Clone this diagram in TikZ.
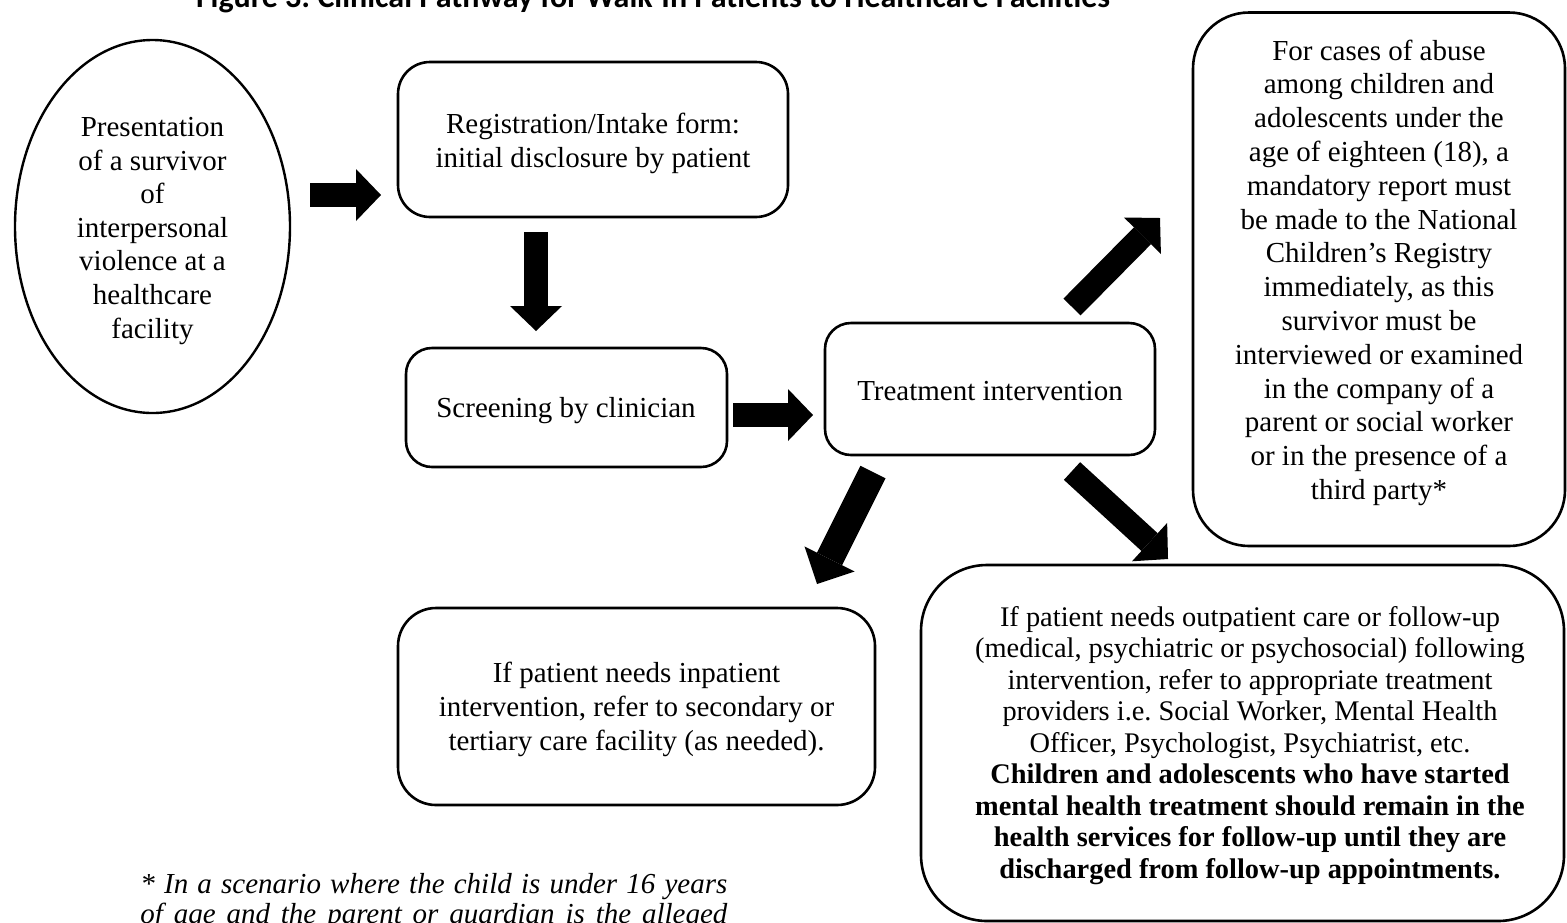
\documentclass[tikz,border=0pt]{standalone}
\usepackage{fontspec}
\setmainfont{Liberation Serif}
\newfontfamily\headfont{Carlito}
\usetikzlibrary{arrows.meta,shapes.geometric}
\frenchspacing

\tikzset{
  rbox/.style={draw, line width=1.3pt, rounded corners=#1, inner sep=0pt},
  oval/.style={draw, ellipse, line width=1.2pt, inner sep=0pt},
  body/.style={align=center, inner sep=0pt, font=\fontsize{14.5pt}{16.8pt}\selectfont},
  notetext/.style={anchor=base west, inner sep=0pt, font=\fontsize{14.5pt}{16pt}\selectfont\itshape},
  blockarrow/.style={line width=12pt, -{Triangle[length=12.5pt,width=26pt,line width=0pt]}},
  widearrow/.style={line width=14pt, -{Triangle[length=14pt,width=28pt,line width=0pt]}},
}

\begin{document}
\begin{tikzpicture}[x=0.5pt,y=-0.5pt]
\useasboundingbox (0,0) rectangle (1567,922);

% heading (runs off the top edge)
\node[anchor=base, inner sep=0pt, font=\headfont\bfseries\fontsize{16pt}{19pt}\selectfont] (title) at (653,7)
  {Figure 3: Clinical Pathway for Walk-In Patients to Healthcare Facilities};

% shapes
\node[oval, minimum width=137.5pt, minimum height=186.5pt] (pres) at (152.5,226.5) {};
\node[rbox=16pt, minimum width=195pt, minimum height=77.5pt] (reg) at (593,139.5) {};
\node[rbox=13pt, minimum width=160.5pt, minimum height=59.5pt] (scr) at (566.5,407.5) {};
\node[rbox=13pt, minimum width=165pt, minimum height=66pt] (trt) at (990,389) {};
\node[rbox=28pt, minimum width=186pt, minimum height=266.75pt] (abuse) at (1379,279.25) {};
\node[rbox=19pt, minimum width=238.5pt, minimum height=98.5pt] (inpt) at (636.5,706.5) {};
\node[rbox=33pt, minimum width=321.5pt, minimum height=178pt] (outpt) at (1242.5,743) {};

% texts
\node[body, anchor=north] (pres-t) at (152.5,116.8)
  {Presentation\\of a survivor\\of\\interpersonal\\violence at a\\healthcare\\facility};
\node[body, anchor=north] (reg-t) at (593,113)
  {Registration/Intake form:\\initial disclosure by patient};
\node[body, anchor=base] (scr-t) at (566,417) {Screening by clinician};
\node[body, anchor=base] (trt-t) at (990,400) {Treatment intervention};
\node[body, anchor=north, font=\fontsize{14.5pt}{16.9pt}\selectfont] (abuse-t) at (1379,39.2)
  {For cases of abuse\\among children and\\adolescents under the\\age of eighteen (18), a\\mandatory report must\\be made to the National\\Children’s Registry\\immediately, as this\\survivor must be\\interviewed or examined\\in the company of a\\parent or social worker\\or in the presence of a\\third party*};
\node[body, anchor=north] (inpt-t) at (636.5,662)
  {If patient needs inpatient\\intervention, refer to secondary or\\tertiary care facility (as needed).};
\node[body, anchor=north, font=\fontsize{14.2pt}{15.75pt}\selectfont] (outpt-t) at (1250,605.6)
  {If patient needs outpatient care or follow-up\\(medical, psychiatric or psychosocial) following\\intervention, refer to appropriate treatment\\providers i.e.\ Social Worker, Mental Health\\Officer, Psychologist, Psychiatrist, etc.\\
   \textbf{Children and adolescents who have started}\\\textbf{mental health treatment should remain in the}\\\textbf{health services for follow-up until they are}\\\textbf{discharged from follow-up appointments.}};

% footnote (runs off the bottom edge)
\node[notetext] (note1) at (140,893)
  {\makebox[293.5pt][s]{* In a scenario where the child is under 16 years}};
\node[notetext] (note2) at (140,923)
  {\makebox[293.5pt][s]{of age and the parent or guardian is the alleged}};

% block arrows between the steps
\coordinate (a1s) at (310,195);   \coordinate (a1e) at (381,195);
\coordinate (a2s) at (536,232);   \coordinate (a2e) at (536,331);
\coordinate (a3s) at (733,415);   \coordinate (a3e) at (813,415);
\coordinate (a4s) at (1072,307);  \coordinate (a4e) at (1160,218);
\coordinate (a5s) at (1072,471);  \coordinate (a5e) at (1168,559);
\coordinate (a6s) at (873,472);   \coordinate (a6e) at (817,584);

\draw[blockarrow] (a1s) -- (a1e);
\draw[blockarrow] (a2s) -- (a2e);
\draw[blockarrow] (a3s) -- (a3e);
\draw[blockarrow] (a4s) -- (a4e);
\draw[blockarrow] (a5s) -- (a5e);
\draw[widearrow] (a6s) -- (a6e);
\end{tikzpicture}
\end{document}
